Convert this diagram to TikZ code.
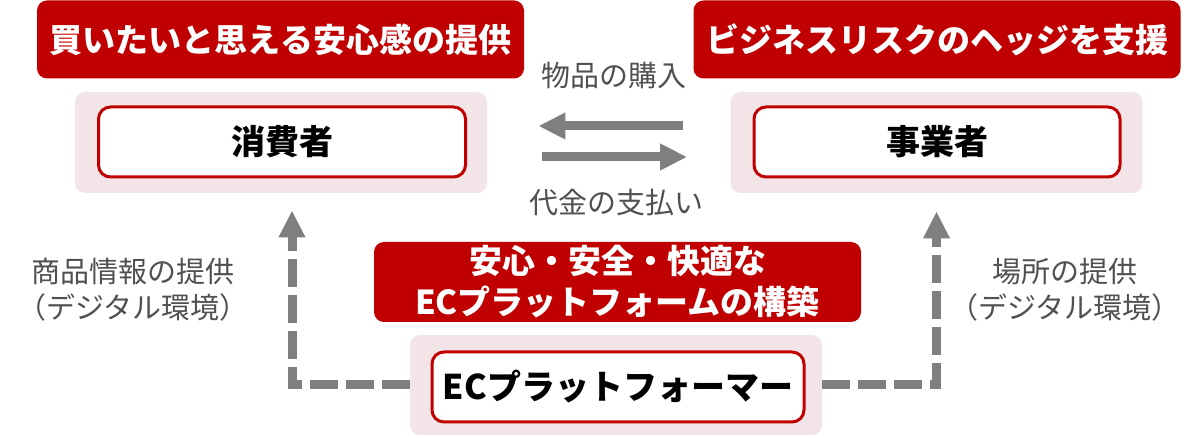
\documentclass[tikz,border=0pt]{standalone}
\usepackage{fontspec}
\setmainfont{Noto Sans CJK JP}
\usepackage{tikz}
\usetikzlibrary{arrows.meta,positioning}
\definecolor{ecred}{HTML}{C00000}
\definecolor{ecpink}{RGB}{243,229,231}
\definecolor{ecgray}{HTML}{7F7F7F}
\definecolor{ectext}{HTML}{505050}

\begin{document}
\begin{tikzpicture}[
  x=0.5pt, y=-0.5pt,
  title/.style={fill=ecred, rounded corners=5pt, text=white, align=center, inner sep=0pt, minimum width=243.5pt, minimum height=39pt, font=\bfseries\fontsize{16.5}{20.5}\selectfont},
  back/.style={fill=ecpink, rounded corners=5pt, minimum width=206pt, minimum height=50.5pt},
  actor/.style={draw=ecred, line width=1.5pt, fill=white, rounded corners=6pt, minimum height=35pt, font=\bfseries\fontsize{17}{20}\selectfont},
  lbl/.style={text=ectext, align=center, inner sep=0pt, font=\fontsize{14.5}{18}\selectfont},
  flow/.style={draw=ecgray, line width=4.5pt, -{Triangle[length=13.5pt,width=12.5pt]}},
  link/.style={flow, dash pattern=on 14pt off 4pt}
]
\useasboundingbox (0,0) rectangle (1201,438);
\node[back] (buyerbg) at (281,142.5) {};
\node[actor, minimum width=183.5pt] (buyer) at (282,142) {消費者};
\node[back] (sellerbg) at (936.5,142.5) {};
\node[actor, minimum width=183pt] (seller) at (937,142) {事業者};
\node[title] (buyertitle) at (280.5,39.5) {買いたいと思える安心感の提供};
\node[title] (sellertitle) at (937,39.5) {ビジネスリスクのヘッジを支援};
\node[title, minimum height=40pt] (goal) at (617.5,282) {安心・安全・快適な\\ECプラットフォームの構築};
\node[back, minimum height=50pt] (platbg) at (616,385) {};
\node[actor, minimum width=186pt] (plat) at (618,387) {ECプラットフォーマー};
\node[lbl] (buy) at (614,75) {物品の購入};
\node[lbl] (pay) at (616,203) {代金の支払い};
\node[lbl] (info) at (133,290) {商品情報の提供\\（デジタル環境）};
\node[lbl] (place) at (1065,290) {場所の提供\\（デジタル環境）};
\draw[flow] ([xshift=-23.5pt, yshift=8.25pt]sellerbg.west) -- ([xshift=25.5pt, yshift=8.25pt]buyerbg.east);
\draw[flow] ([xshift=27.5pt, yshift=-7.25pt]buyerbg.east) -- ([xshift=-21.5pt, yshift=-7.25pt]sellerbg.west);
\draw[link] (platbg.west) -| ([xshift=5.5pt, yshift=-8.5pt]buyerbg.south);
\draw[link] (platbg.east) -| ([yshift=-9pt]sellerbg.south);
\end{tikzpicture}
\end{document}
